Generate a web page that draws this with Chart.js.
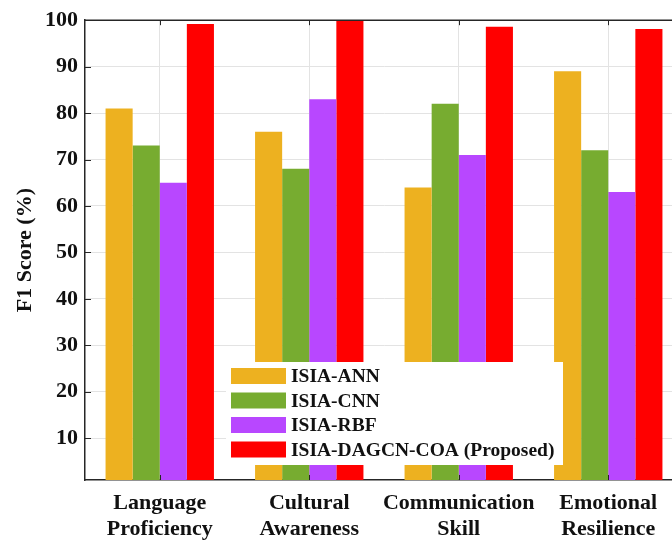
<!DOCTYPE html>
<html>
<head>
<meta charset="utf-8">
<script src="https://cdn.jsdelivr.net/npm/chart.js@4.4.1/dist/chart.umd.min.js"></script>
<style>
  html, body { margin: 0; padding: 0; background: #fff; overflow: hidden; }
  #wrap { width: 686px; height: 541px; }
</style>
</head>
<body>
<div id="wrap"><canvas id="f1Chart" width="686" height="541"></canvas></div>
<script>
const categories = [
    ['Language', 'Proficiency'],
    ['Cultural', 'Awareness'],
    ['Communication', 'Skill'],
    ['Emotional', 'Resilience']
];
const seriesNames = ['ISIA-ANN', 'ISIA-CNN', 'ISIA-RBF', 'ISIA-DAGCN-COA (Proposed)'];
const annScores = [81, 76, 64, 89];
const cnnScores = [73, 68, 82, 72];
const rbfScores = [65, 83, 71, 63];
const proposedScores = [99.2, 100, 98.6, 98.1];
const yTickValues = [10, 20, 30, 40, 50, 60, 70, 80, 90, 100];

const seriesColors = ['#EDB120', '#77AC30', '#B847FF', '#FF0000'];
const axisColor = '#262626';
const serif = "'Liberation Serif', 'Times New Roman', serif";

// box frame with inward ticks, like a matlab axes
const framePlugin = {
    id: 'frame',
    afterDraw(chart) {
        const { ctx, chartArea: a, scales } = chart;
        ctx.save();
        ctx.strokeStyle = axisColor;
        ctx.lineWidth = 1.5;
        ctx.beginPath();
        ctx.moveTo(a.left, a.top);
        ctx.lineTo(a.right, a.top);
        ctx.stroke();
        ctx.lineWidth = 1;
        ctx.beginPath();
        scales.y.ticks.forEach((t) => {
            const y = Math.round(scales.y.getPixelForValue(t.value)) + 0.5;
            ctx.moveTo(a.left, y);
            ctx.lineTo(a.left + 6, y);
        });
        categories.forEach((c, i) => {
            const x = Math.round(scales.x.getPixelForValue(i)) + 0.5;
            ctx.moveTo(x, a.top);
            ctx.lineTo(x, a.top + 5);
            ctx.moveTo(x, a.bottom);
            ctx.lineTo(x, a.bottom - 5);
        });
        ctx.stroke();
        ctx.restore();
    }
};

// legend drawn inside the plot, covering the bars beneath it
const insideLegend = {
    id: 'insideLegend',
    afterDatasetsDraw(chart) {
        const { ctx, chartArea: a } = chart;
        const boxLeft = a.left + 141;
        const boxTop = a.bottom - 118;
        ctx.save();
        ctx.fillStyle = '#fff';
        ctx.fillRect(boxLeft, boxTop, 337, 103);
        ctx.font = 'bold 19.5px ' + serif;
        ctx.textBaseline = 'middle';
        ctx.textAlign = 'left';
        chart.data.datasets.forEach((ds, i) => {
            const cy = boxTop + 14 + i * 24.5;
            ctx.fillStyle = ds.backgroundColor;
            ctx.fillRect(boxLeft + 5, cy - 8, 55, 16);
            ctx.fillStyle = '#111';
            ctx.fillText(ds.label, boxLeft + 65, cy + 1);
        });
        ctx.restore();
    }
};

const seriesData = [annScores, cnnScores, rbfScores, proposedScores];

new Chart(document.getElementById('f1Chart'), {
    type: 'bar',
    data: {
        labels: categories,
        datasets: seriesData.map((d, i) => ({
            label: seriesNames[i],
            data: d,
            backgroundColor: seriesColors[i],
            borderWidth: 0,
            categoryPercentage: 0.725,
            barPercentage: 1.0
        }))
    },
    options: {
        responsive: false,
        animation: false,
        devicePixelRatio: 1,
        layout: { padding: { top: 15, right: 3, left: 0, bottom: 0 } },
        plugins: {
            legend: { display: false },
            tooltip: { enabled: false }
        },
        scales: {
            x: {
                grid: { color: '#e3e3e3', offset: false, drawTicks: false },
                border: { display: true, color: axisColor, width: 1.5 },
                ticks: {
                    color: '#111',
                    padding: 10,
                    autoSkip: false,
                    maxRotation: 0,
                    font: { family: serif, size: 22, weight: 'bold', lineHeight: 1.18 }
                },
                afterFit(scale) { scale.height = 61; }
            },
            y: {
                min: 1,
                max: 100,
                grid: { color: '#e3e3e3', drawTicks: false },
                border: { display: true, color: axisColor, width: 1.5 },
                afterBuildTicks(scale) {
                    scale.ticks = yTickValues.map((v) => ({ value: v }));
                },
                ticks: {
                    color: '#111',
                    padding: 7,
                    font: { family: serif, size: 22, weight: 'bold' }
                },
                title: {
                    display: true,
                    text: 'F1 Score (%)',
                    color: '#111',
                    padding: { top: 12, bottom: 0 },
                    font: { family: serif, size: 22, weight: 'bold' }
                },
                afterFit(scale) { scale.width = 85; }
            }
        }
    },
    plugins: [insideLegend, framePlugin]
});
</script>
</body>
</html>
